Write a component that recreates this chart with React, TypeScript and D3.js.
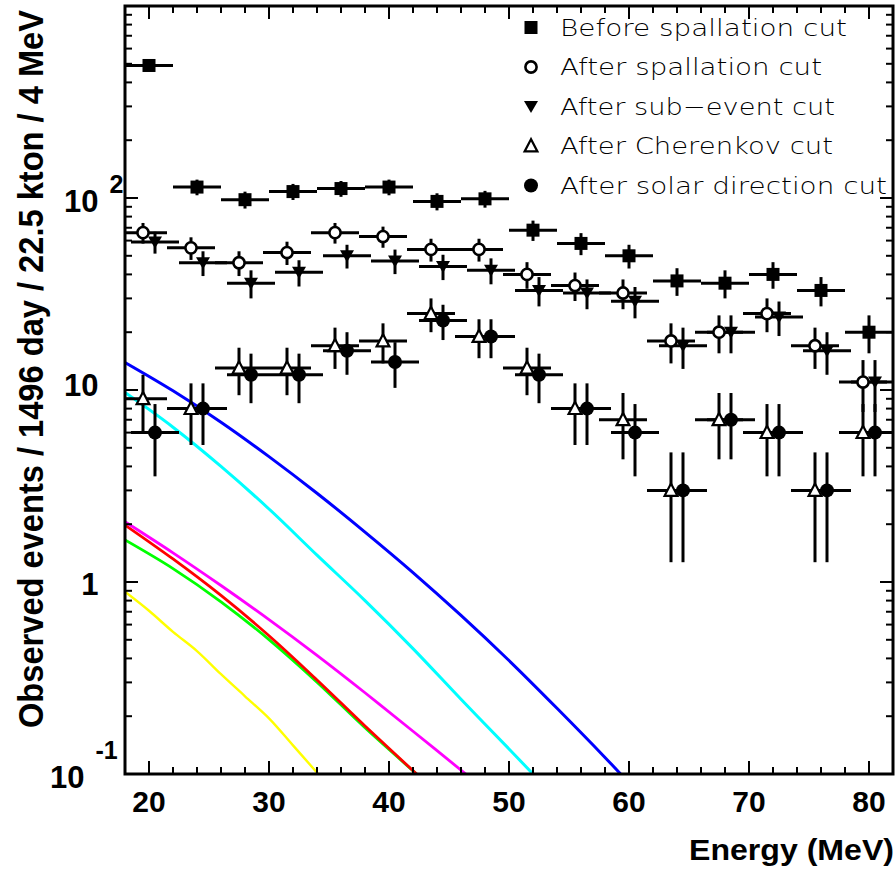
import React, { useLayoutEffect, useRef, useState } from "react";
import * as d3 from "d3";

// ---------- data ----------
const binCenters = [20, 24, 28, 32, 36, 40, 44, 48, 52, 56, 60, 64, 68, 72, 76, 80];
const beforeSpallation = [490, 114, 98, 108, 112, 114, 96, 99, 68, 58, 50, 37, 36, 40, 33, 20];
const afterSpallation = [66, 55, 46, 52, 66, 63, 54, 54, 40, 35, 32, 18, 20, 25, 17, 11];
const afterSubEvent = [59, 46, 36, 41, 50, 47, 44, 42, 33, 32, 29, 17, 20, 24, 16, 11];
const afterCherenkov = [9, 8, 13, 13, 17, 18, 25, 19, 13, 8, 7, 3, 7, 6, 3, 6];
const afterSolarDirection = [6, 8, 12, 12, 16, 14, 23, 19, 12, 8, 6, 3, 7, 6, 3, 6];

const legendLabels = [
  "Before spallation cut",
  "After spallation cut",
  "After sub\u2212event cut",
  "After Cherenkov cut",
  "After solar direction cut",
];

// background expectation curves (energy MeV, events)
const blueE = [18, 22, 26, 30, 34, 38, 42, 46, 50, 54, 58, 59.3];
const blueV = [13.9, 9.9, 6.8, 4.5, 2.9, 1.82, 1.12, 0.67, 0.39, 0.22, 0.122, 0.1];
const cyanE = [18, 22, 26, 30, 34, 38, 42, 46, 50, 52];
const cyanV = [9.7, 6.4, 4.0, 2.4, 1.38, 0.8, 0.45, 0.245, 0.135, 0.1];
const magentaE = [18, 22, 26, 30, 34, 38, 42, 46.4];
const magentaV = [2.06, 1.419, 0.959, 0.637, 0.415, 0.265, 0.167, 0.1];
const redE = [18, 22, 26, 30, 34, 38, 42.3];
const redV = [1.98, 1.318, 0.851, 0.525, 0.309, 0.178, 0.1];
const greenE = [18, 22, 26, 30, 34, 38, 42.3];
const greenV = [1.656, 1.175, 0.789, 0.501, 0.301, 0.174, 0.1];
const yellowE = [18, 20, 22, 24, 26, 28, 30, 32, 34.1];
const yellowV = [0.889, 0.708, 0.55, 0.437, 0.331, 0.254, 0.195, 0.141, 0.1];

const xTickLabels = [20, 30, 40, 50, 60, 70, 80];
const yTickValues = [0.1, 1, 10, 100];
const yTickBases = ["10", "1", "10", "10"];
const yTickExps = ["-1", "", "", "2"];

const yTitle = "Observed events / 1496 day / 22.5 kton / 4 MeV";
const xTitle = "Energy (MeV)";

// ---------- layout ----------
const W = 896;
const H = 870;
const L = 125, R = 893, T = 6, B = 774;
const FONT = "'Liberation Sans', Arial, Helvetica, sans-serif";

const x = d3.scaleLinear().domain([18, 82]).range([L, R]);
const y = d3.scaleLog().domain([0.1, 1000]).range([B, T]);

type MarkerType = "square" | "openCircle" | "triDown" | "openTriUp" | "filledCircle";

function Marker({ type, cx, cy }: { type: MarkerType; cx: number; cy: number }) {
  switch (type) {
    case "square":
      return <rect x={cx - 6.5} y={cy - 6.5} width={13} height={13} fill="#000" />;
    case "openCircle":
      return <circle cx={cx} cy={cy} r={5.6} fill="#fff" stroke="#000" strokeWidth={2.6} />;
    case "filledCircle":
      return <circle cx={cx} cy={cy} r={7} fill="#000" />;
    case "triDown":
      return (
        <polygon
          points={`${cx - 7},${cy - 5.5} ${cx + 7},${cy - 5.5} ${cx},${cy + 6.5}`}
          fill="#000"
        />
      );
    case "openTriUp":
      return (
        <polygon
          points={`${cx},${cy - 6.8} ${cx - 6.4},${cy + 5.4} ${cx + 6.4},${cy + 5.4}`}
          fill="#fff"
          stroke="#000"
          strokeWidth={2.2}
          strokeLinejoin="miter"
        />
      );
  }
  return null;
}

const series: { values: number[]; shift: number; marker: MarkerType }[] = [
  { values: beforeSpallation, shift: 0, marker: "square" },
  { values: afterSpallation, shift: -0.5, marker: "openCircle" },
  { values: afterSubEvent, shift: 0.5, marker: "triDown" },
  { values: afterCherenkov, shift: -0.5, marker: "openTriUp" },
  { values: afterSolarDirection, shift: 0.5, marker: "filledCircle" },
];

const curves = [
  { e: yellowE, v: yellowV, color: "#ffff00", w: 2.4 },
  { e: greenE, v: greenV, color: "#00ff00", w: 2.8 },
  { e: redE, v: redV, color: "#ff0000", w: 2.8 },
  { e: magentaE, v: magentaV, color: "#ff00ff", w: 2.8 },
  { e: cyanE, v: cyanV, color: "#00ffff", w: 3 },
  { e: blueE, v: blueV, color: "#0000ff", w: 3 },
];

const legendWidths = [287, 262, 275, 273, 327];
const Y_TITLE_LEN = 718;

export default function App() {
  const titleRef = useRef<SVGTextElement>(null);
  const [titleScale, setTitleScale] = useState(0.8);

  useLayoutEffect(() => {
    if (titleRef.current) {
      const len = titleRef.current.getComputedTextLength();
      if (len > 0) setTitleScale(Y_TITLE_LEN / len);
    }
  }, []);

  const line = d3
    .line<[number, number]>()
    .x((d) => x(d[0]))
    .y((d) => y(d[1]))
    .curve(d3.curveCatmullRom.alpha(0.5));

  const xMajor = xTickLabels;
  const xMinor = d3.range(18, 83, 2).filter((v) => v % 10 !== 0);
  const yMinor: number[] = [];
  [0.1, 1, 10, 100].forEach((dec) => {
    for (let k = 2; k <= 9; k++) yMinor.push(dec * k);
  });

  const majorLen = 13;
  const minorLen = 7;

  return (
    <svg
      width={W}
      height={H}
      viewBox={`0 0 ${W} ${H}`}
      style={{ position: "absolute", left: 0, top: 0, background: "#fff" }}
      fontFamily={FONT}
    >
      <defs>
        <clipPath id="plotClip">
          <rect x={L} y={T} width={R - L} height={B - T} />
        </clipPath>
      </defs>
      <rect x={0} y={0} width={W} height={H} fill="#fff" />

      {/* curves */}
      <g clipPath="url(#plotClip)">
        {curves.map((c, i) => (
          <path
            key={i}
            d={line(c.e.map((e, j) => [e, c.v[j]] as [number, number])) || ""}
            fill="none"
            stroke={c.color}
            strokeWidth={c.w}
          />
        ))}
      </g>

      {/* error bars */}
      <g clipPath="url(#plotClip)" stroke="#000" strokeWidth={3}>
        {series.map((s, si) =>
          s.values.map((v, i) => {
            const e = binCenters[i] + s.shift;
            const err = Math.sqrt(v);
            const lo = Math.max(v - err, 0.05);
            return (
              <g key={`${si}-${i}`}>
                <line x1={x(e - 2)} x2={x(e + 2)} y1={y(v)} y2={y(v)} />
                <line x1={x(e)} x2={x(e)} y1={y(v + err)} y2={y(lo)} />
              </g>
            );
          })
        )}
      </g>

      {/* markers */}
      <g>
        {series.map((s, si) =>
          s.values.map((v, i) => (
            <Marker key={`${si}-${i}`} type={s.marker} cx={x(binCenters[i] + s.shift)} cy={y(v)} />
          ))
        )}
      </g>

      {/* frame */}
      <rect x={L} y={T} width={R - L} height={B - T} fill="none" stroke="#000" strokeWidth={3} />

      {/* ticks */}
      <g stroke="#000" strokeWidth={2}>
        {xMajor.map((t) => (
          <g key={`xM${t}`}>
            <line x1={x(t)} x2={x(t)} y1={B} y2={B - majorLen} />
            <line x1={x(t)} x2={x(t)} y1={T} y2={T + majorLen} />
          </g>
        ))}
        {xMinor.map((t) => (
          <g key={`xm${t}`}>
            <line x1={x(t)} x2={x(t)} y1={B} y2={B - minorLen} />
            <line x1={x(t)} x2={x(t)} y1={T} y2={T + minorLen} />
          </g>
        ))}
        {yTickValues.map((t) => (
          <g key={`yM${t}`}>
            <line x1={L} x2={L + majorLen} y1={y(t)} y2={y(t)} />
            <line x1={R} x2={R - majorLen} y1={y(t)} y2={y(t)} />
          </g>
        ))}
        {yMinor.map((t) => (
          <g key={`ym${t}`}>
            <line x1={L} x2={L + minorLen} y1={y(t)} y2={y(t)} />
            <line x1={R} x2={R - minorLen} y1={y(t)} y2={y(t)} />
          </g>
        ))}
      </g>

      {/* x tick labels */}
      <g fontWeight="bold" fontSize={30} textAnchor="middle" fill="#000">
        {xTickLabels.map((t) => (
          <text key={t} x={x(t)} y={811.5}>
            {t}
          </text>
        ))}
      </g>

      {/* y tick labels */}
      <g fontWeight="bold" fill="#000">
        {yTickValues.map((t, i) => {
          const base = yTickBases[i];
          const exp = yTickExps[i];
          const ty = y(t);
          if (!exp) {
            return (
              <text key={t} x={98.5} y={ty + (base === "10" ? 6 : 13)} fontSize={31} textAnchor="end">
                {base}
              </text>
            );
          }
          const baseEnd = exp.length > 1 ? 84.5 : 98.5;
          const baseY = ty + 13.5;
          const expY = exp.length > 1 ? baseY - 29 : baseY - 19;
          return (
            <g key={t}>
              <text x={baseEnd} y={baseY} fontSize={31} textAnchor="end">
                {base}
              </text>
              <text x={baseEnd + 11} y={expY} fontSize={25}>
                {exp}
              </text>
            </g>
          );
        })}
      </g>

      {/* axis titles */}
      <text
        x={894}
        y={860}
        fontSize={30}
        fontWeight="bold"
        textAnchor="end"
        textLength={205}
        lengthAdjust="spacingAndGlyphs"
      >
        {xTitle}
      </text>
      <g transform={`translate(43,369) rotate(-90) scale(${titleScale},1)`}>
        <text ref={titleRef} x={0} y={0} fontSize={35} fontWeight="bold" textAnchor="middle">
          {yTitle}
        </text>
      </g>

      {/* legend */}
      <g>
        {legendLabels.map((lab, i) => {
          const cy = 27.5 + i * 39.5;
          return (
            <g key={lab}>
              <Marker type={series[i].marker} cx={531} cy={cy} />
              <text
                x={560}
                y={cy + 8}
                fontSize={23.5}
                fontFamily="'DejaVu Sans', sans-serif"
                fontWeight={300}
                textLength={legendWidths[i]}
                lengthAdjust="spacingAndGlyphs"
                fill="#000"
              >
                {lab}
              </text>
            </g>
          );
        })}
      </g>
    </svg>
  );
}
